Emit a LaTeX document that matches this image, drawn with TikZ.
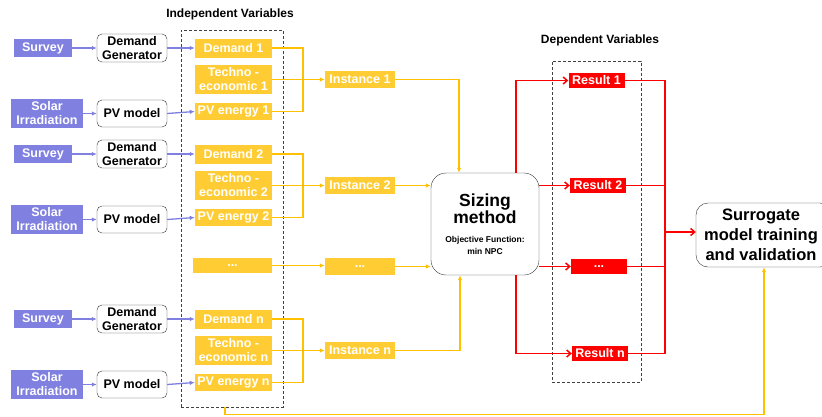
\documentclass[tikz,border=0pt]{standalone}
\usepackage{fontspec}
\setmainfont{Liberation Sans}
\definecolor{svpurple}{RGB}{128,128,224}
\definecolor{svyellow}{RGB}{255,204,51}
\definecolor{svline}{RGB}{255,192,0}
\definecolor{svred}{RGB}{255,0,0}
\usetikzlibrary{arrows.meta,positioning}
\tikzset{
  srcbox/.style={fill=svpurple,text=white,inner sep=0pt,align=center,
        font=\fontsize{12.5}{14}\selectfont\bfseries},
  modbox/.style={draw=black!80,fill=white,rounded corners=5pt,inner sep=0pt,align=center,
        minimum width=70pt,font=\fontsize{12.5}{14}\selectfont\bfseries},
  varbox/.style={fill=svyellow,text=white,inner sep=0pt,align=center,
        font=\fontsize{12.5}{14}\selectfont\bfseries},
  resbox/.style={fill=svred,text=white,inner sep=0pt,minimum width=56pt,minimum height=15pt,
        font=\fontsize{12.5}{14}\selectfont\bfseries},
  varframe/.style={draw=black!75,dash pattern=on 3pt off 2pt,inner sep=0pt},
  title/.style={font=\fontsize{12}{14}\selectfont\bfseries},
  parr/.style={svpurple,line width=1.3pt,-{Latex[length=5pt,width=4.5pt]}},
  yline/.style={svline,line width=1.4pt},
  yarr/.style={yline,-{Latex[length=5pt,width=4.5pt]}},
  rline/.style={svred,line width=1.5pt},
  rarr/.style={rline,-{Straight Barb[length=4pt,width=7pt]}}
}
\begin{document}
\begin{tikzpicture}[x=1pt,y=-1pt]
  \useasboundingbox (0,0) rectangle (822,416);

  \node[title] (indep) at (230,14) {Independent Variables};
  \node[title] (dep) at (600,40) {Dependent Variables};
  \node[varframe,minimum width=102pt,minimum height=377pt] (ivbox) at (232,218.5) {};
  \node[varframe,minimum width=89pt,minimum height=321pt] (dvbox) at (596.5,221.5) {};

  \foreach \o/\i in {0/1,106/2,271/n}{
    \node[srcbox,minimum width=58pt,minimum height=18pt] (survey\i) at (43,48+\o) {Survey};
    \node[srcbox,minimum width=72pt,minimum height=29pt] (solar\i) at (47,113.5+\o) {Solar\\Irradiation};
    \node[modbox,minimum height=28pt] (dgen\i) at (132,48+\o) {Demand\\Generator};
    \node[modbox,minimum height=27pt] (pvm\i) at (132,113.5+\o) {PV model};
    \node[varbox,minimum width=77pt,minimum height=19pt] (dem\i) at (233.5,48+\o) {Demand \i};
    \node[varbox,minimum width=77pt,minimum height=29pt] (tec\i) at (233.5,79.5+\o) {Techno -\\economic \i};
    \node[varbox,minimum width=77pt,minimum height=17pt] (pve\i) at (233.5,111.5+\o) {PV energy \i};
    \node[varbox,minimum width=70pt,minimum height=17pt] (inst\i) at (360,79.5+\o) {Instance \i};
    \coordinate (br\i) at (303,79.5+\o);
    \draw[parr] (survey\i.east) -- (dgen\i.west);
    \draw[parr] (dgen\i.east) -- (dem\i.west);
    \draw[parr] (solar\i.east) -- (pvm\i.west);
    \draw[parr] (pvm\i.east) -- (pve\i.west);
    \draw[yline] (dem\i.east) -| (br\i);
    \draw[yline] (pve\i.east) -| (br\i);
    \draw[yarr] (tec\i.east) -- (inst\i.west);
  }
  \node[varbox,minimum width=79pt,minimum height=15pt] (ivdots) at (232.5,265.5) {...};
  \node[varbox,minimum width=70pt,minimum height=17pt] (instdots) at (360,266.5) {...};
  \draw[yarr] (ivdots.east) -- (ivdots.east -| instdots.west);

  \node[draw=black!80,fill=white,rounded corners=15pt,minimum width=108pt,minimum height=102pt,
        inner sep=0pt,align=center]
        (sizing) at (485,224) {\fontsize{17.5}{19}\selectfont\bfseries Sizing\\
        \fontsize{17.5}{19}\selectfont\bfseries method\\[7pt]
        \fontsize{8.5}{10.5}\selectfont\bfseries Objective Function:\\
        \fontsize{8.5}{10.5}\selectfont\bfseries min NPC};
  \draw[yarr] (inst1.east) -| ([xshift=-26pt]sizing.north);
  \draw[yarr] (inst2.east) -- (sizing.west |- inst2.east);
  \draw[yarr] (instdots.east) -- (sizing.west |- instdots.east);
  \draw[yarr] (instn.east) -| ([xshift=-25pt]sizing.south);

  \node[resbox] (res1) at (596.5,80.5) {Result 1};
  \node[resbox] (res2) at (598,185.5) {Result 2};
  \node[resbox] (resdots) at (599,266.5) {...};
  \node[resbox] (resn) at (600,353.5) {Result n};
  \draw[rarr] ([xshift=31pt]sizing.north) |- (res1.west);
  \draw[rarr] (sizing.east |- res2.west) -- (res2.west);
  \draw[rarr] (sizing.east |- resdots.west) -- (resdots.west);
  \draw[rarr] ([xshift=31pt]sizing.south) |- (resn.west);

  \node[draw=black!80,fill=white,rounded corners=12pt,minimum width=136pt,minimum height=64pt,
        inner sep=0pt,align=center,font=\fontsize{16.5}{20}\selectfont\bfseries]
        (surr) at (764,235) {\hspace*{-6pt}Surrogate\\\hspace*{-6pt}model training\\\hspace*{-6pt}and validation};
  \coordinate (rbus) at (665,232);
  \draw[rline] (res1.east) -| (rbus);
  \draw[rline] (resn.east) -| (rbus);
  \draw[rline] (res2.east) -- (res2.east -| rbus);
  \draw[rline] (resdots.east) -- (resdots.east -| rbus);
  \draw[rarr] (rbus) -- (surr.west |- rbus);

  \draw[yarr] ([xshift=-7pt]ivbox.south) -- ++(0,7) -| (surr.south);
\end{tikzpicture}
\end{document}
